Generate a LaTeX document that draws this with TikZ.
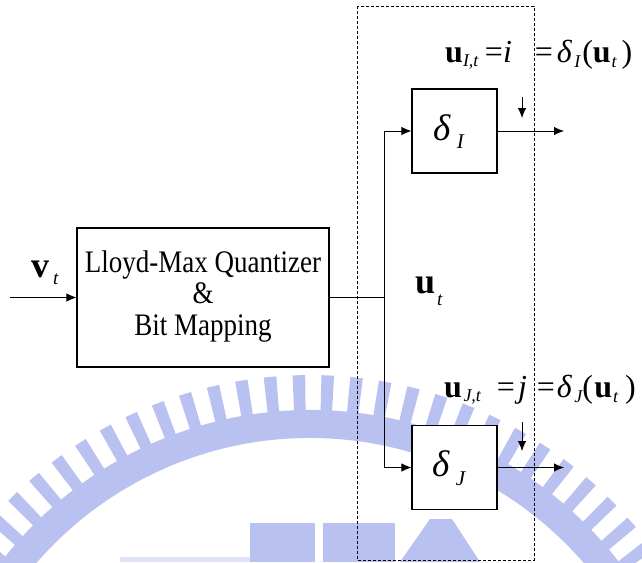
\documentclass[tikz,border=0pt]{standalone}
\usepackage{fontspec}
\setmainfont{Liberation Serif}
\usetikzlibrary{arrows.meta}
\definecolor{wm}{RGB}{184,193,240}
% lowered italic subscript: #1 drop, #2 text
\newcommand{\sbx}[2]{\raisebox{-#1}{\fontsize{18}{18}\selectfont\itshape #2}}
\begin{document}
\begin{tikzpicture}[x=1pt,y=-1pt,
  blk/.style={draw, line width=1.1pt, fill=white, inner sep=0pt},
  wire/.style={line width=0.9pt},
  arr/.style={wire, -{Latex[length=10pt,width=8.5pt]}},
  lbl/.style={inner sep=0pt, anchor=base west},
]
\useasboundingbox (0,0) rectangle (642,562);

% faint gear emblem in the background
\begin{scope}
  \clip (0,0) rectangle (642,562);
  \coordinate (c) at (310,800);
  \fill[wm] ([shift={(-150:390)}]c) arc[start angle=-150, end angle=-30, radius=390]
    -- ([shift={(-30:362)}]c) arc[start angle=-30, end angle=-150, radius=362] -- cycle;
  \foreach \a [evaluate=\a as \lo using \a-0.85, evaluate=\a as \hi using \a+0.85]
      in {-150,-146.1,...,-30} {
    \fill[wm] ([shift={(\lo:385)}]c) -- ([shift={(\lo:425)}]c)
      -- ([shift={(\hi:425)}]c) -- ([shift={(\hi:385)}]c) -- cycle;
  }
  \fill[wm] (250,523) rectangle (315,562);
  \fill[wm] (323,523) rectangle (395,562);
  \fill[wm] (400,562) -- (430,519) -- (452,519) -- (480,562) -- cycle;
  \fill[wm!45] (120,557) rectangle (250,562);
\end{scope}

% group boundary
\draw[dash pattern=on 3pt off 2pt, line width=0.7pt] (357,6) rectangle (534,560);

% blocks
\node[blk, minimum width=252pt, minimum height=139pt] (q) at (203,297.5)
  {\scalebox{1}[1.16]{\fontsize{27}{27}\selectfont
   \begin{tabular}{@{}c@{}}Lloyd-Max Quantizer\\\&\\Bit Mapping\end{tabular}}};
\node[blk, minimum width=85pt, minimum height=84pt] (dI) at (454.5,131) {};
\node[blk, minimum width=85pt, minimum height=84pt] (dJ) at (454.5,467.5) {};

% connectors
\coordinate (in) at (10,297.5);
\coordinate (split) at (384,297.5);
\coordinate (oI) at (564,131);
\coordinate (oJ) at (564,467.5);
\coordinate (mI1) at (522,97);
\coordinate (mI2) at (522,118);
\coordinate (mJ1) at (522,422);
\coordinate (mJ2) at (522,451);
\draw[arr] (in) -- (q.west);
\draw[wire] (q.east) -- (split);
\draw[arr] (split) |- (dI.west);
\draw[arr] (split) |- (dJ.west);
\draw[arr] (dI.east) -- (oI);
\draw[arr] (dJ.east) -- (oJ);
\draw[arr] (mI1) -- (mI2);
\draw[arr] (mJ1) -- (mJ2);

% labels
\node[lbl] (vt) at (31,277)
  {\fontsize{36}{36}\selectfont\textbf{v}\hspace{4pt}\raisebox{-7pt}{\fontsize{19}{19}\selectfont\textit{t}}};
\node[lbl] (ut) at (415,293)
  {\fontsize{36}{36}\selectfont\textbf{u}\hspace{2pt}\raisebox{-12pt}{\fontsize{19}{19}\selectfont\textit{t}}};
\node[lbl] (dIl) at (433,140)
  {\fontsize{37}{37}\selectfont\textit{δ}\hspace{6pt}\raisebox{-8pt}{\fontsize{21}{21}\selectfont\textit{I}}};
\node[lbl] (dJl) at (432,476)
  {\fontsize{37}{37}\selectfont\textit{δ}\hspace{6pt}\raisebox{-9pt}{\fontsize{21}{21}\selectfont\textit{J}}};
\node[lbl] (eqI) at (445,62)
  {\fontsize{32}{32}\selectfont\textbf{u}\sbx{4pt}{I,t}\hspace{6.5pt}=\textit{i}\hspace{23pt}=\hspace{4pt}\textit{δ}\hspace{2pt}\sbx{5pt}{I}\hspace{2pt}(\textbf{u}\hspace{1pt}\sbx{5pt}{t}\hspace{5pt})};
\node[lbl] (eqJ) at (444,397)
  {\fontsize{32}{32}\selectfont\textbf{u}\hspace{1.5pt}\sbx{4pt}{J,t}\hspace{16pt}=\hspace{3pt}\textit{j}\hspace{10pt}=\hspace{2pt}\textit{δ}\hspace{2pt}\sbx{5pt}{J}(\hspace{1.5pt}\textbf{u}\hspace{1pt}\sbx{5pt}{t}\hspace{7pt})};
\end{tikzpicture}
\end{document}
